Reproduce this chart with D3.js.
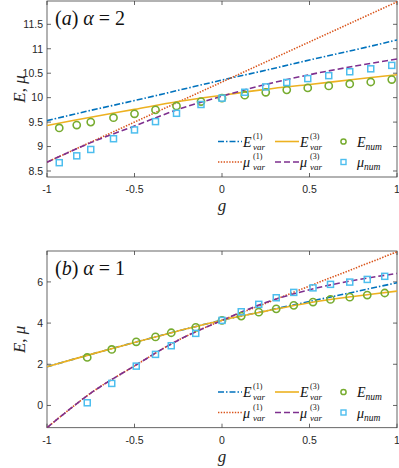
<!DOCTYPE html>
<html>
<head>
<meta charset="utf-8">
<script src="https://cdn.jsdelivr.net/npm/d3@7"></script>
<style>
  html, body { margin: 0; padding: 0; background: #fff; }
  svg { display: block; }
</style>
</head>
<body>
<div id="chart"></div>
<script>
// shared g grid for the variational curves
const gLine = [-1, -0.75, -0.5, -0.25, 0, 0.25, 0.5, 0.75, 1];
const xTicks = [-1, -0.5, 0, 0.5, 1];

// panel (a), alpha = 2
const aE1 = [9.53, 9.74, 9.94, 10.15, 10.36, 10.56, 10.77, 10.97, 11.18];
const aMu1 = [8.68, 9.09, 9.50, 9.91, 10.32, 10.73, 11.14, 11.55, 11.96];
const aE3 = [9.43, 9.60, 9.76, 9.92, 10.05, 10.17, 10.27, 10.37, 10.47];
const aMu3 = [8.68, 9.08, 9.42, 9.76, 10.03, 10.27, 10.47, 10.64, 10.79];
const aNumG = [-0.93, -0.83, -0.75, -0.62, -0.5, -0.38, -0.26, -0.12, 0, 0.13, 0.25, 0.37, 0.49, 0.61, 0.73, 0.85, 0.97];
const aENum = [9.38, 9.44, 9.50, 9.59, 9.67, 9.75, 9.83, 9.92, 9.99, 10.05, 10.11, 10.16, 10.20, 10.24, 10.28, 10.32, 10.37];
const aMuNum = [8.67, 8.81, 8.94, 9.16, 9.34, 9.51, 9.68, 9.86, 9.99, 10.11, 10.22, 10.31, 10.39, 10.45, 10.53, 10.59, 10.66];
const aYTicks = [8.5, 9, 9.5, 10, 10.5, 11, 11.5];

// panel (b), alpha = 1
const bE1 = [1.88, 2.48, 3.06, 3.62, 4.14, 4.59, 5.05, 5.50, 5.96];
const bMu1 = [-1.08, 0.60, 1.92, 3.17, 4.13, 4.96, 5.80, 6.63, 7.46];
const bE3 = [1.88, 2.48, 3.06, 3.62, 4.14, 4.58, 4.99, 5.29, 5.55];
const bMu3 = [-1.08, 0.60, 1.92, 3.17, 4.13, 5.00, 5.62, 6.07, 6.41];
const bNumG = [-0.77, -0.63, -0.49, -0.38, -0.29, -0.15, 0, 0.11, 0.21, 0.31, 0.41, 0.52, 0.62, 0.73, 0.83, 0.93];
const bENum = [2.33, 2.72, 3.09, 3.33, 3.53, 3.79, 4.13, 4.34, 4.53, 4.69, 4.86, 5.02, 5.15, 5.26, 5.36, 5.46];
const bMuNum = [0.13, 1.07, 1.91, 2.48, 2.90, 3.50, 4.13, 4.55, 4.91, 5.23, 5.49, 5.71, 5.88, 5.99, 6.12, 6.27];
const bYTicks = [0, 2, 4, 6];

const colors = {
  e1: '#0072BD',
  mu1: '#D95319',
  e3: '#EDB120',
  mu3: '#7E2F8E',
  eNum: '#77AC30',
  muNum: '#4DBEEE'
};
const dashes = { e1: '6,2,1.5,2', mu1: '1.4,1.4', e3: null, mu3: '6,3' };

const W = 399, H = 468;
const serif = '"Liberation Serif", "DejaVu Serif", serif';
const sans = '"Liberation Sans", Arial, sans-serif';
const axisColor = '#404040';

const svg = d3.select('#chart').append('svg').attr('width', W).attr('height', H);

function drawPanel(p) {
  const left = 47, right = 397;
  const x = d3.scaleLinear().domain([-1, 1]).range([left, right]);
  const y = d3.scaleLinear().domain(p.yDomain).range([p.bottom, p.top]);

  const clipId = 'clip-' + p.id;
  svg.append('clipPath').attr('id', clipId)
    .append('rect').attr('x', left).attr('y', p.top)
    .attr('width', right - left).attr('height', p.bottom - p.top);

  const g = svg.append('g');

  // axes, MATLAB style: box with inward ticks on all sides
  const tick = 4;
  const ax = g.append('g').attr('stroke', axisColor).attr('stroke-width', 0.8).attr('fill', 'none');
  ax.append('rect').attr('x', left).attr('y', p.top)
    .attr('width', right - left).attr('height', p.bottom - p.top);
  xTicks.forEach((t) => {
    ax.append('line').attr('x1', x(t)).attr('x2', x(t)).attr('y1', p.bottom).attr('y2', p.bottom - tick);
    ax.append('line').attr('x1', x(t)).attr('x2', x(t)).attr('y1', p.top).attr('y2', p.top + tick);
  });
  p.yTicks.forEach((t) => {
    ax.append('line').attr('x1', left).attr('x2', left + tick).attr('y1', y(t)).attr('y2', y(t));
    ax.append('line').attr('x1', right).attr('x2', right - tick).attr('y1', y(t)).attr('y2', y(t));
  });

  g.selectAll('.xt').data(xTicks).join('text')
    .attr('x', (d) => x(d)).attr('y', p.bottom + 16)
    .attr('text-anchor', 'middle')
    .attr('font-family', sans).attr('font-size', 10.5).attr('fill', '#262626')
    .text((d) => (d === 0 ? '0' : d));
  g.selectAll('.yt').data(p.yTicks).join('text')
    .attr('x', left - 4).attr('y', (d) => y(d) + 3.8)
    .attr('text-anchor', 'end')
    .attr('font-family', sans).attr('font-size', 10.5).attr('fill', '#262626')
    .text((d) => d);

  // axis labels
  g.append('text').attr('x', x(0)).attr('y', p.bottom + 34)
    .attr('text-anchor', 'middle').attr('font-family', serif)
    .attr('font-style', 'italic').attr('font-size', 17).attr('fill', '#262626').text('g');
  const yl = g.append('text')
    .attr('transform', `translate(25, ${(p.top + p.bottom) / 2}) rotate(-90)`)
    .attr('text-anchor', 'middle').attr('font-family', serif)
    .attr('font-size', 17).attr('fill', '#262626');
  yl.append('tspan').attr('font-style', 'italic').text('E');
  yl.append('tspan').text(', ');
  yl.append('tspan').attr('font-style', 'italic').text('μ');

  // panel title
  const tt = g.append('text').attr('x', 55).attr('y', p.top + 24)
    .attr('font-family', serif).attr('font-size', 20).attr('fill', '#111');
  tt.append('tspan').text('(');
  tt.append('tspan').attr('font-style', 'italic').text(p.letter);
  tt.append('tspan').text(')  ');
  tt.append('tspan').attr('font-style', 'italic').text('α');
  tt.append('tspan').text(' = ' + p.alpha);

  // curves
  const plot = g.append('g').attr('clip-path', `url(#${clipId})`);
  const line = d3.line().x((d) => x(d[0])).y((d) => y(d[1])).curve(d3.curveCatmullRom);
  const series = [
    { key: 'e1', vals: p.e1 },
    { key: 'mu1', vals: p.mu1 },
    { key: 'e3', vals: p.e3 },
    { key: 'mu3', vals: p.mu3 }
  ];
  series.forEach((s) => {
    plot.append('path')
      .datum(gLine.map((gv, i) => [gv, s.vals[i]]))
      .attr('d', line)
      .attr('fill', 'none')
      .attr('stroke', colors[s.key])
      .attr('stroke-width', 1.6)
      .attr('stroke-dasharray', dashes[s.key]);
  });

  // numerical points
  plot.selectAll('.en').data(p.numG.map((gv, i) => [gv, p.eNum[i]])).join('circle')
    .attr('cx', (d) => x(d[0])).attr('cy', (d) => y(d[1])).attr('r', 3.6)
    .attr('fill', 'none').attr('stroke', colors.eNum).attr('stroke-width', 1.6);
  plot.selectAll('.mn').data(p.numG.map((gv, i) => [gv, p.muNum[i]])).join('rect')
    .attr('x', (d) => x(d[0]) - 3).attr('y', (d) => y(d[1]) - 3)
    .attr('width', 6).attr('height', 6)
    .attr('fill', 'none').attr('stroke', colors.muNum).attr('stroke-width', 1.5);

  // legend
  const lg = g.append('g');
  const r1 = p.legendY, r2 = p.legendY + 20.5;
  const sample = (key, x0, yy) => {
    lg.append('line').attr('x1', x0).attr('x2', x0 + 24).attr('y1', yy).attr('y2', yy)
      .attr('stroke', colors[key]).attr('stroke-width', 1.6)
      .attr('stroke-dasharray', dashes[key]);
  };
  const varLabel = (sym, sup, x0, yy) => {
    lg.append('text').attr('x', x0).attr('y', yy + 5)
      .attr('font-family', serif).attr('font-style', 'italic').attr('font-size', 14)
      .attr('fill', '#111').text(sym);
    lg.append('text').attr('x', x0 + 10).attr('y', yy - 3)
      .attr('font-family', serif).attr('font-size', 8).attr('fill', '#111').text(sup);
    lg.append('text').attr('x', x0 + 10).attr('y', yy + 8)
      .attr('font-family', serif).attr('font-style', 'italic').attr('font-size', 9)
      .attr('fill', '#111').text('var');
  };
  const numLabel = (sym, x0, yy) => {
    const t = lg.append('text').attr('x', x0).attr('y', yy + 5)
      .attr('font-family', serif).attr('font-style', 'italic').attr('font-size', 14).attr('fill', '#111');
    t.append('tspan').text(sym);
    t.append('tspan').attr('font-size', 9.5).attr('dy', 3).text('num');
  };
  sample('e1', 218, r1); varLabel('E', '(1)', 243, r1);
  sample('e3', 275, r1); varLabel('E', '(3)', 300, r1);
  sample('mu1', 218, r2); varLabel('μ', '(1)', 243, r2);
  sample('mu3', 275, r2); varLabel('μ', '(3)', 300, r2);
  lg.append('circle').attr('cx', 343.5).attr('cy', r1).attr('r', 2.6)
    .attr('fill', 'none').attr('stroke', colors.eNum).attr('stroke-width', 1.5);
  numLabel('E', 357, r1);
  lg.append('rect').attr('x', 341).attr('y', r2 - 2.5).attr('width', 5).attr('height', 5)
    .attr('fill', 'none').attr('stroke', colors.muNum).attr('stroke-width', 1.4);
  numLabel('μ', 357, r2);
}

drawPanel({
  id: 'a', letter: 'a', alpha: 2,
  top: 1, bottom: 177, yDomain: [8.377, 11.977], yTicks: aYTicks,
  e1: aE1, mu1: aMu1, e3: aE3, mu3: aMu3,
  numG: aNumG, eNum: aENum, muNum: aMuNum,
  legendY: 141.5
});

drawPanel({
  id: 'b', letter: 'b', alpha: 1,
  top: 251, bottom: 427.7, yDomain: [-1.08, 7.5], yTicks: bYTicks,
  e1: bE1, mu1: bMu1, e3: bE3, mu3: bMu3,
  numG: bNumG, eNum: bENum, muNum: bMuNum,
  legendY: 392
});
</script>
</body>
</html>
